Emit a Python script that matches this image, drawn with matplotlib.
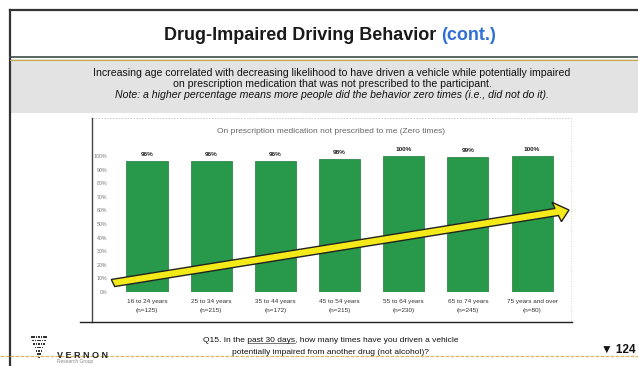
import matplotlib.pyplot as plt
from matplotlib.patches import Rectangle, FancyArrow
from matplotlib.lines import Line2D

plt.rcParams['font.family'] = ['Liberation Sans', 'DejaVu Sans']

# data
age_groups = ['16 to 24 years', '25 to 34 years', '35 to 44 years', '45 to 54 years',
              '55 to 64 years', '65 to 74 years', '75 years and over']
sample_sizes = [125, 215, 172, 215, 230, 245, 80]
zero_times_pct = [96, 96, 96, 98, 100, 99, 100]
y_ticks = [0, 10, 20, 30, 40, 50, 60, 70, 80, 90, 100]

W, H = 638, 366
fig = plt.figure(figsize=(W / 100, H / 100), dpi=100)


def fx(px):
    return px / W


def fy(py):
    return 1 - py / H


# slide frame
fig.add_artist(Line2D([fx(10), fx(10)], [fy(10), 0], color='#333333', lw=1.6))
fig.add_artist(Line2D([fx(10), 1], [fy(10), fy(10)], color='#333333', lw=1.6))

# title
t1 = fig.text(fx(164), fy(35), 'Drug-Impaired Driving Behavior ', fontsize=13,
              fontweight='bold', color='#1a1a1a', va='center', ha='left')
fig.canvas.draw()
bb = t1.get_window_extent()
fig.text(bb.x1 / W, fy(35), '(cont.)', fontsize=13, fontweight='bold',
         color='#2f6fd6', va='center', ha='left')

# grey band with subtitle
fig.add_artist(Rectangle((fx(10), fy(113)), 1, fy(59) - fy(113),
                         transform=fig.transFigure, facecolor='#e3e3e3', edgecolor='none'))
fig.add_artist(Line2D([fx(10), 1], [fy(57), fy(57)], color='#3c4a48', lw=1.2))
fig.add_artist(Line2D([fx(10), 1], [fy(59.5), fy(59.5)], color='#c9a84a', lw=0.8))
fig.text(fx(332), fy(73), 'Increasing age correlated with decreasing likelihood to have driven a vehicle while potentially impaired',
         fontsize=7.6, ha='center', va='center', color='#111111')
fig.text(fx(332), fy(84), 'on prescription medication that was not prescribed to the participant.',
         fontsize=7.6, ha='center', va='center', color='#111111')
fig.text(fx(332), fy(95), 'Note: a higher percentage means more people did the behavior zero times (i.e., did not do it).',
         fontsize=7.6, ha='center', va='center', style='italic', color='#111111')

# chart box
fig.add_artist(Line2D([fx(92), fx(571)], [fy(118), fy(118)], color='#c8c8c8', lw=0.6, ls=(0, (2, 1.5))))
fig.add_artist(Line2D([fx(92), fx(92)], [fy(118), fy(322)], color='#444444', lw=1.0))
fig.add_artist(Line2D([fx(571), fx(571)], [fy(118), fy(322)], color='#cccccc', lw=0.6, ls=(0, (1, 2))))
fig.add_artist(Line2D([fx(80), fx(572)], [fy(322), fy(322)], color='#222222', lw=1.0))
fig.text(fx(331), fy(131), 'On prescription medication not prescribed to me (Zero times)',
         fontsize=6.0, ha='center', va='center', color='#666666')

# bars
ax = fig.add_axes([fx(113), fy(292), fx(570) - fx(113), fy(156) - fy(292)])
x = list(range(len(age_groups)))
ax.bar(x, zero_times_pct, width=0.64, color='#28994a', edgecolor='#1f7a3a', linewidth=0.5)
for xi, v in zip(x, zero_times_pct):
    ax.text(xi, v + 3, f'{v}%', ha='center', va='bottom', fontsize=4.6,
            fontweight='bold', color='#222222')
ax.set_xlim(-0.53, 6.59)
ax.set_ylim(0, 100)
ax.set_yticks(y_ticks)
ax.set_yticklabels([f'{t}%' for t in y_ticks], fontsize=3.8, color='#777777')
ax.set_xticks(x)
ax.set_xticklabels([f'{g}\n(n={n})' for g, n in zip(age_groups, sample_sizes)],
                   fontsize=4.6, color='#333333', linespacing=2.0)
ax.tick_params(axis='x', length=0, pad=5)
ax.tick_params(axis='y', length=0, pad=4)
for s in ax.spines.values():
    s.set_visible(False)
ax.patch.set_alpha(0)

# trend arrow
fig.add_artist(FancyArrow(fx(113), fy(283), fx(569) - fx(113), fy(210) - fy(283),
                          width=0.02, head_width=0.055, head_length=0.02,
                          length_includes_head=True, transform=fig.transFigure,
                          facecolor='#f4ea1a', edgecolor='#222222', linewidth=1.0))

# footer
fig.add_artist(Line2D([0, 1], [fy(355.5), fy(355.5)], color='#d9b860', lw=0.9, ls=(0, (3, 1))))
fig.add_artist(Rectangle((fx(28), fy(364)), fx(86), fy(332) - fy(364),
                         transform=fig.transFigure, facecolor='white', edgecolor='none'))
fig.add_artist(Rectangle((fx(598), fy(362)), fx(40), fy(340) - fy(362),
                         transform=fig.transFigure, facecolor='white', edgecolor='none'))
# logo: triangle of dots
rows = [7, 6, 5, 4, 3, 2, 1]
for r, n in enumerate(rows):
    for k in range(n):
        px = 31 + (7 - n) * 1.2 + k * 2.4
        py = 338 + r * 3.4
        fig.add_artist(Rectangle((fx(px), fy(py)), fx(1.6), fy(0) - fy(1.6),
                                 transform=fig.transFigure, facecolor='#333333', edgecolor='none'))
fig.text(fx(57), fy(355), 'V E R N O N', fontsize=6.5, fontweight='bold', color='#222222', va='center')
fig.text(fx(57), fy(362), 'Research Group', fontsize=3.5, color='#888888', va='center')

q1 = fig.text(fx(331), fy(340), 'Q15. In the past 30 days, how many times have you driven a vehicle',
              fontsize=6.0, ha='center', va='center', color='#111111')
fig.text(fx(331), fy(352), 'potentially impaired from another drug (not alcohol)?',
         fontsize=6.0, ha='center', va='center', color='#111111')
# underline "past 30 days"
fig.canvas.draw()
r = fig.canvas.get_renderer()
full = q1.get_window_extent(r)
pre = fig.text(0, 0, 'Q15. In the ', fontsize=6.0, alpha=0)
mid = fig.text(0, 0, 'past 30 days', fontsize=6.0, alpha=0)
w_pre = pre.get_window_extent(r).width
w_mid = mid.get_window_extent(r).width
ux0 = (full.x0 + w_pre) / W
ux1 = (full.x0 + w_pre + w_mid) / W
uy = full.y0 / H + 0.001
fig.add_artist(Line2D([ux0, ux1], [uy, uy], color='#111111', lw=0.4))

fig.text(fx(601), fy(350), '\u25bc 124', fontsize=8.5, fontweight='bold', color='#111111',
         va='center', ha='left', family=['Liberation Sans', 'DejaVu Sans'])

fig.savefig('out.png', dpi=100)
